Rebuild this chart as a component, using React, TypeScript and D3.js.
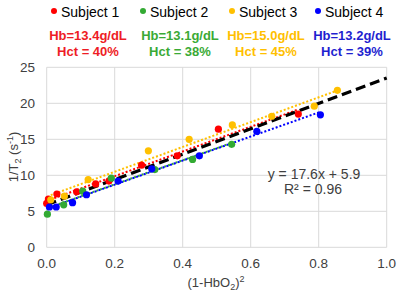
import React from "react";
import * as d3 from "d3";

const subjects = ["Subject 1", "Subject 2", "Subject 3", "Subject 4"];
const colors = ["#FF0000", "#33AA33", "#FFC000", "#0000FF"];
const textColors = ["#EE1C25", "#3AAA35", "#FFC000", "#1F1FD0"];
const hbLabels = ["Hb=13.4g/dL", "Hb=13.1g/dL", "Hb=15.0g/dL", "Hb=13.2g/dL"];
const hctLabels = ["Hct = 40%", "Hct = 38%", "Hct = 45%", "Hct = 39%"];

const s1x = [0.0, 0.005, 0.03, 0.088, 0.144, 0.183, 0.279, 0.384, 0.505, 0.74];
const s1y = [6.1, 6.7, 7.4, 7.7, 8.8, 9.2, 11.4, 12.7, 16.4, 18.5];
const s2x = [0.002, 0.05, 0.106, 0.19, 0.318, 0.429, 0.544];
const s2y = [4.6, 5.9, 7.8, 9.6, 10.8, 12.2, 14.3];
const s3x = [0.012, 0.052, 0.122, 0.299, 0.419, 0.546, 0.662, 0.787, 0.855];
const s3y = [6.6, 7.1, 9.4, 13.4, 15.0, 17.0, 18.2, 19.6, 21.8];
const s4x = [0.008, 0.028, 0.076, 0.117, 0.21, 0.309, 0.449, 0.618, 0.805];
const s4y = [5.6, 5.6, 6.2, 7.3, 9.2, 10.9, 12.7, 16.1, 18.4];

const xTicks = [0, 0.2, 0.4, 0.6, 0.8, 1.0];
const yTicks = [0, 5, 10, 15, 20, 25];
const fitSlope = 17.6;
const fitIntercept = 5.9;
const eqText = "y = 17.6x + 5.9";
const r2Text = "R² = 0.96";

const seriesX = [s1x, s2x, s3x, s4x];
const seriesY = [s1y, s2y, s3y, s4y];

function linreg(xs: number[], ys: number[]) {
  const mx = d3.mean(xs)!;
  const my = d3.mean(ys)!;
  let num = 0, den = 0;
  xs.forEach((x, i) => {
    num += (x - mx) * (ys[i] - my);
    den += (x - mx) * (x - mx);
  });
  const m = num / den;
  return { m, b: my - m * mx };
}

export default function App() {
  const W = 400, H = 293;
  const left = 46.7, right = 386.7, top = 67.3, bottom = 247.3;
  const x = d3.scaleLinear().domain([0, 1]).range([left, right]);
  const y = d3.scaleLinear().domain([0, 25]).range([bottom, top]);
  const font = "'Liberation Sans', Arial, sans-serif";
  const tickColor = "#404040";
  const legendDotX = [54, 143, 232, 318];
  const labelCenterX = [88, 180, 266, 352];
  const line = d3.line<[number, number]>().x(d => x(d[0])).y(d => y(d[1]));

  return (
    <svg width={W} height={H} style={{ position: "absolute", left: 0, top: 0 }} fontFamily={font}>
      <rect width={W} height={H} fill="#fff" />
      {xTicks.map(t => (
        <line key={"vx" + t} x1={x(t)} x2={x(t)} y1={top} y2={bottom} stroke="#D9D9D9" strokeWidth={1} />
      ))}
      {yTicks.map(t => (
        <line key={"hy" + t} x1={left} x2={right} y1={y(t)} y2={y(t)} stroke="#D9D9D9" strokeWidth={1} />
      ))}
      {yTicks.map(t => (
        <text key={"yl" + t} x={35} y={y(t)} dy="0.35em" textAnchor="end" fontSize={13.5} fill={tickColor}>{t}</text>
      ))}
      {xTicks.map(t => (
        <text key={"xl" + t} x={x(t)} y={263} dy="0.35em" textAnchor="middle" fontSize={13.5} fill={tickColor}>{t.toFixed(1)}</text>
      ))}
      <text x={216} y={287} textAnchor="middle" fontSize={13} fill={tickColor}>
        (1-HbO<tspan fontSize={9} dy={3}>2</tspan><tspan dy={-3}>)</tspan><tspan fontSize={9} dy={-5}>2</tspan>
      </text>
      <text transform={`translate(18,157) rotate(-90)`} textAnchor="middle" fontSize={13} fill={tickColor}>
        1/T<tspan fontSize={9} dy={3}>2</tspan><tspan dy={-3}> (s</tspan><tspan fontSize={9} dy={-5}>-1</tspan><tspan dy={5}>)</tspan>
      </text>
      {seriesX.map((xs, i) => {
        const { m, b } = linreg(xs, seriesY[i]);
        const x0 = d3.min(xs)!, x1 = d3.max(xs)!;
        return (
          <path key={"tl" + i} d={line([[x0, m * x0 + b], [x1, m * x1 + b]])!} stroke={colors[i]} strokeWidth={2} strokeDasharray="2,2" fill="none" />
        );
      })}
      <path d={line([[0, fitIntercept], [1, fitSlope + fitIntercept]])!} stroke="#000" strokeWidth={3.2} strokeDasharray="10,5" fill="none" />
      {seriesX.map((xs, i) =>
        xs.map((xv, j) => (
          <circle key={`p${i}-${j}`} cx={x(xv)} cy={y(seriesY[i][j])} r={3.6} fill={colors[i]} />
        ))
      )}
      <text x={314} y={174} dy="0.35em" textAnchor="middle" fontSize={14} fill={tickColor}>{eqText}</text>
      <text x={313} y={189} dy="0.35em" textAnchor="middle" fontSize={14} fill={tickColor}>{r2Text}</text>
      {subjects.map((s, i) => (
        <g key={"lg" + i}>
          <circle cx={legendDotX[i]} cy={11} r={3} fill={colors[i]} />
          <text x={legendDotX[i] + 7} y={12} dy="0.35em" fontSize={14} fill="#000">{s}</text>
          <text x={labelCenterX[i]} y={35} dy="0.35em" textAnchor="middle" fontSize={13} fontWeight="bold" fill={textColors[i]}>{hbLabels[i]}</text>
          <text x={labelCenterX[i]} y={51} dy="0.35em" textAnchor="middle" fontSize={13} fontWeight="bold" fill={textColors[i]}>{hctLabels[i]}</text>
        </g>
      ))}
    </svg>
  );
}
